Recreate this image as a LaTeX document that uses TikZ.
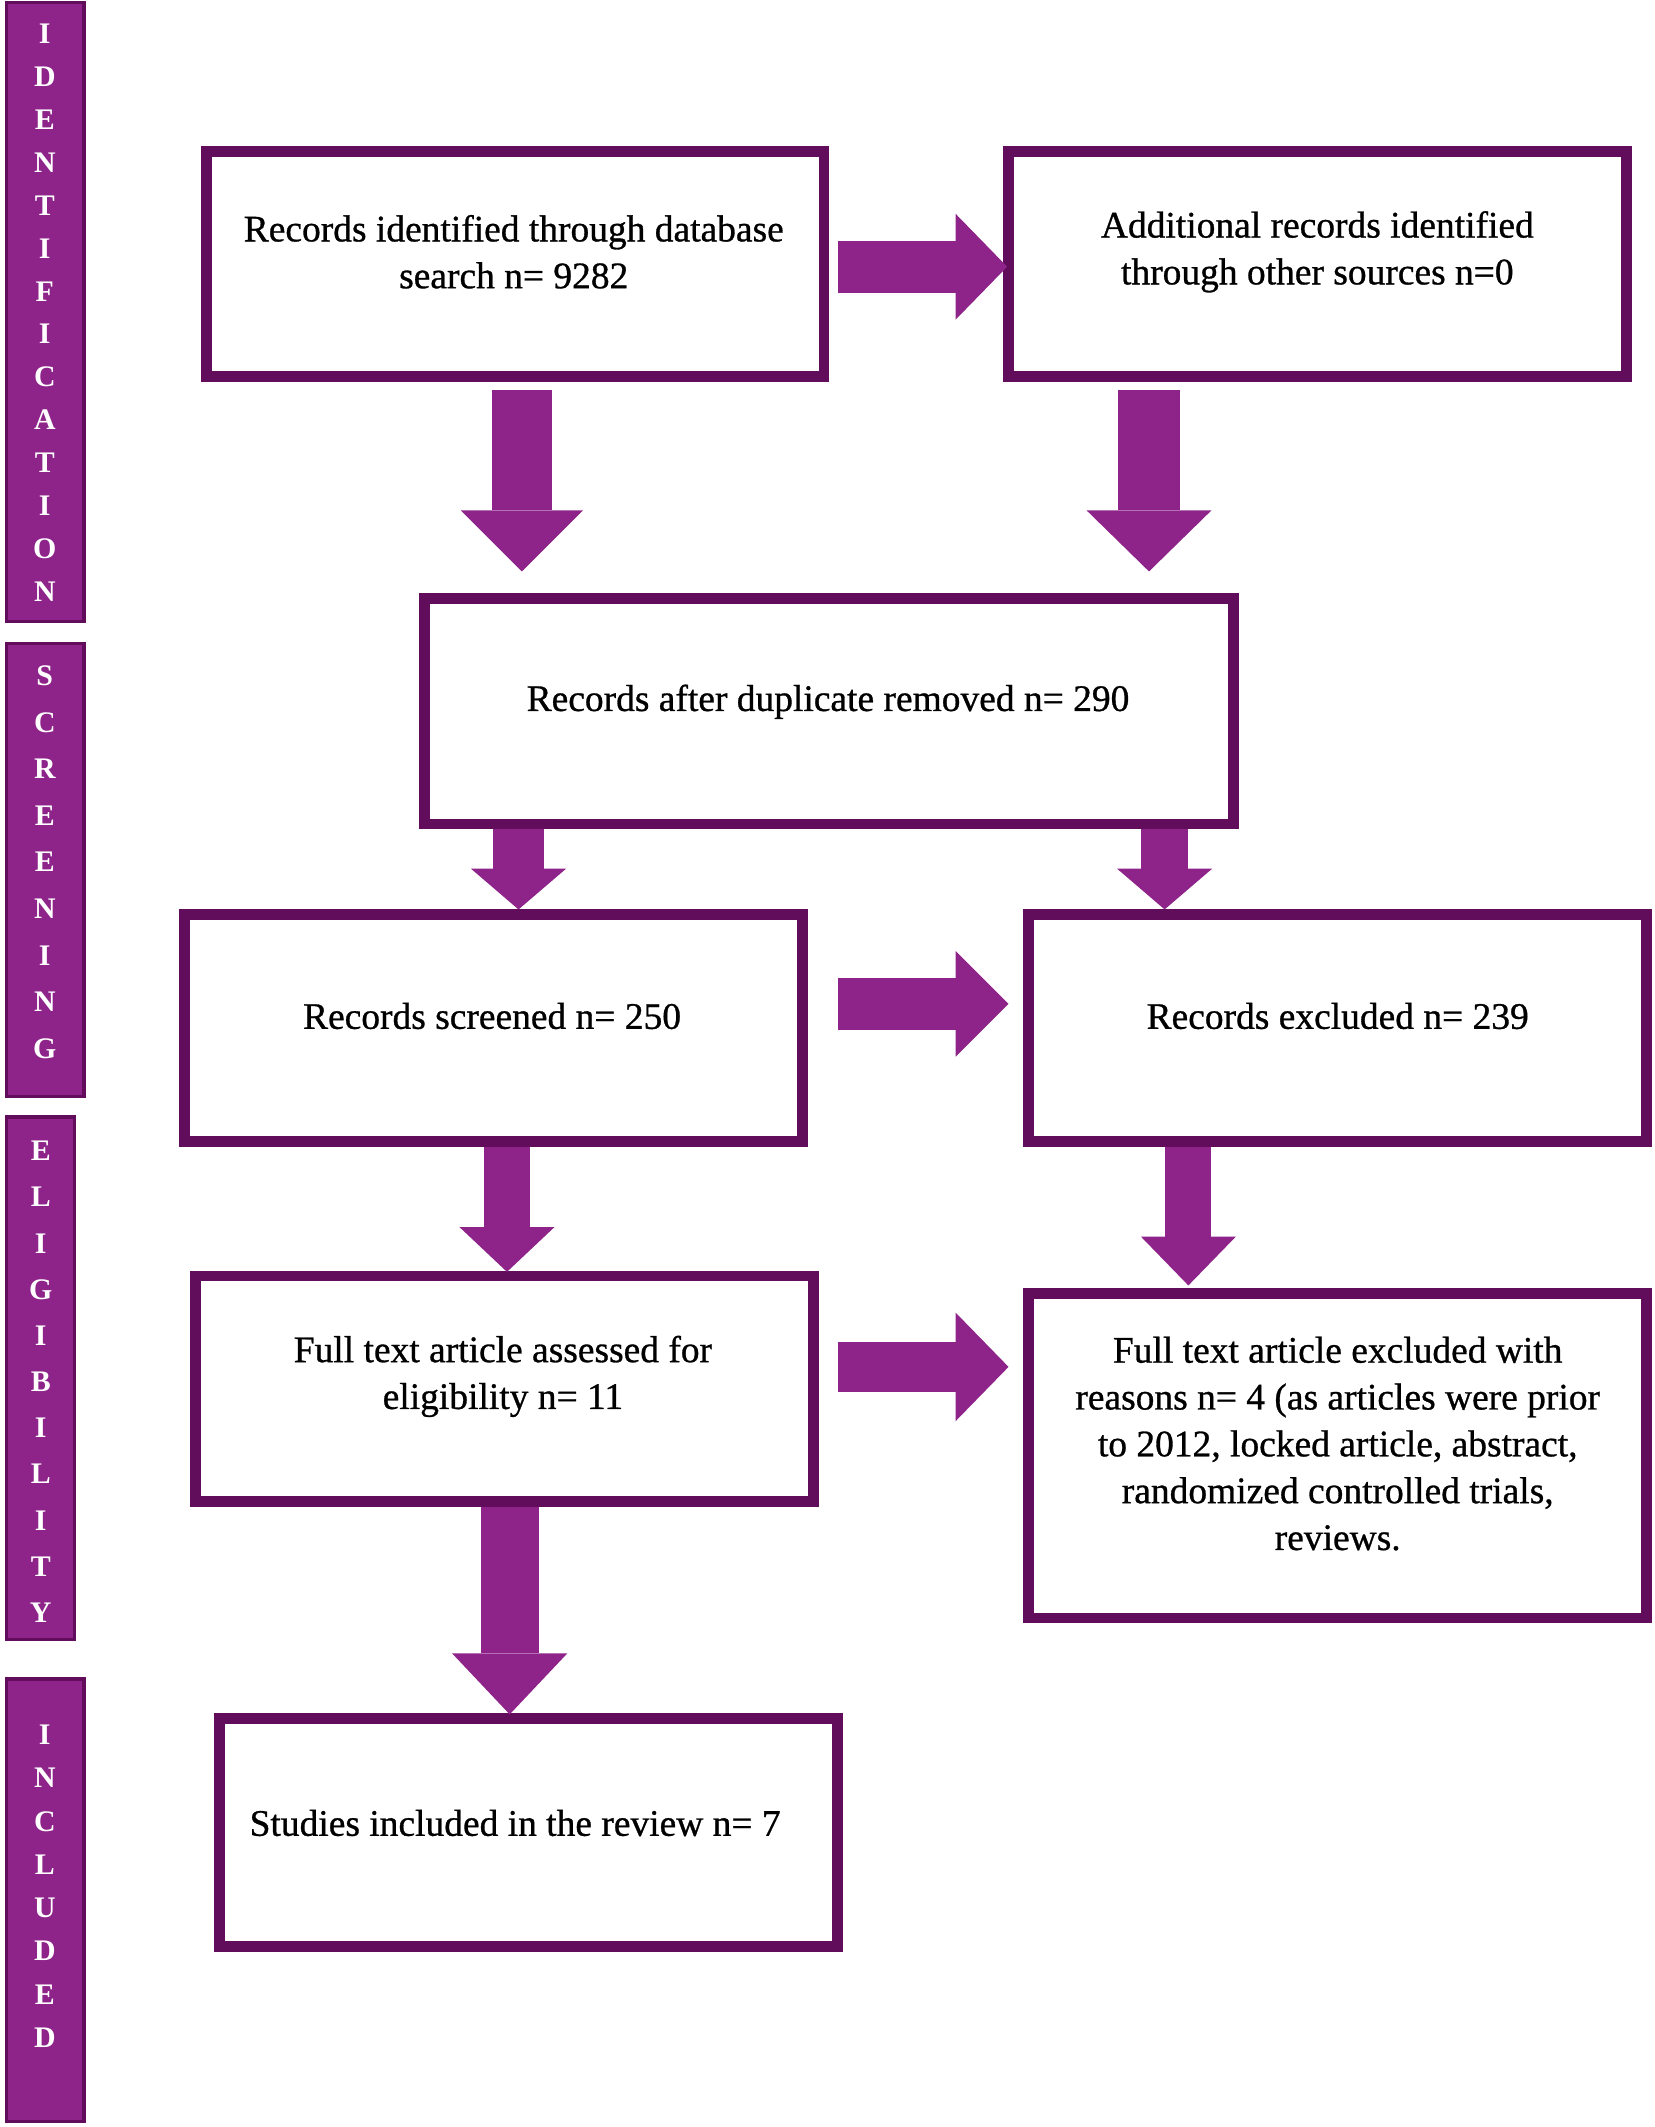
\documentclass[tikz,border=0pt]{standalone}
\usepackage{fontspec}
\setmainfont{Liberation Serif}
\newfontfamily\boxfont[FakeBold=0.8]{Liberation Serif}
\usepackage{tikz}
\usetikzlibrary{arrows.meta}
\usetikzlibrary{calc}
\definecolor{barfill}{RGB}{142,36,138}
\definecolor{boxline}{RGB}{98,12,92}
\begin{document}
\begin{tikzpicture}[x=1pt,y=-1pt,
	main box/.style={draw=boxline,line width=8pt,fill=white,minimum width=455pt,minimum height=166pt},
	box text/.style={align=center,font=\boxfont\fontsize{27.6}{34.5}\selectfont,text=black},
	fat/.style n args={3}{draw=barfill,line width=#1,-{Triangle[width=#2,length=#3,line width=0pt]}},
	side bar/.style={fill=barfill,draw=boxline,line width=2.5pt},
	side letter/.style={text=white,font=\fontsize{22}{22}\selectfont\bfseries,inner sep=0pt}]

	\useasboundingbox (0,0) rectangle (1219,1567);

	% stage bars
	\draw[side bar] (5,2) rectangle (62,458);
	\draw[side bar] (5,474) rectangle (62,808);
	\draw[side bar] (5,823) rectangle (55,1208);
	\draw[side bar] (5,1237) rectangle (62,1563);
	\foreach \ch [count=\i] in {I,D,E,N,T,I,F,I,C,A,T,I,O,N}
		\node[side letter] (id-\i) at (33,{25+31.6*(\i-1)}) {\ch};
	\foreach \ch [count=\i] in {S,C,R,E,E,N,I,N,G}
		\node[side letter] (scr-\i) at (33,{498+34.3*(\i-1)}) {\ch};
	\foreach \ch [count=\i] in {E,L,I,G,I,B,I,L,I,T,Y}
		\node[side letter] (el-\i) at (30,{848+34*(\i-1)}) {\ch};
	\foreach \ch [count=\i] in {I,N,C,L,U,D,E,D}
		\node[side letter] (inc-\i) at (33,{1278+31.9*(\i-1)}) {\ch};

	% boxes
	\node[main box] (rec) at (379.5,194.5) {};
	\node[main box] (add) at (970.5,194.5) {};
	\node[main box,minimum width=596pt] (dup) at (611,524) {};
	\node[main box,minimum height=167pt] (scr) at (363.5,757.5) {};
	\node[main box,minimum height=167pt] (exc) at (985.5,757.5) {};
	\node[main box] (full) at (371.5,1023) {};
	\node[main box,minimum height=239pt] (fexc) at (985.5,1072.5) {};
	\node[main box,minimum height=168pt] (inc) at (389.5,1350) {};

	\node[box text] (rec-t) at ($(rec)+(-1,-9)$) {Records identified through database\\search n= 9282};
	\node[box text] (add-t) at ($(add)+(0,-9)$) {Additional records identified\\through other sources n=0};
	\node[box text] (dup-t) at ($(dup)+(-1,-7)$) {Records after duplicate removed n= 290};
	\node[box text] (scr-t) at ($(scr)+(-1,-9)$) {Records screened n= 250};
	\node[box text] (exc-t) at ($(exc)+(0,-9)$) {Records excluded n= 239};
	\node[box text] (full-t) at ($(full)+(-1,-9)$) {Full text article assessed for\\eligibility n= 11};
	\node[box text] (fexc-t) at ($(fexc)+(0,-9)$) {Full text article excluded with\\reasons n= 4 (as articles were prior\\to 2012, locked article, abstract,\\randomized controlled trials,\\reviews.};
	\node[box text] (inc-t) at ($(inc)+(-10,-7)$) {Studies included in the review n= 7};

	% block arrows
	\draw[fat={38pt}{78pt}{38pt}] ($(rec.east)+(6,2)$) -- ($(add.west |- rec.east)+(3,2)$);
	\draw[fat={44pt}{90pt}{45pt}] ($(rec.south)+(5,6)$) -- ($(rec.south |- dup.north)+(5,-16)$);
	\draw[fat={45pt}{92pt}{45pt}] ($(add.south)+(-124,6)$) -- ($(add.south |- dup.north)+(-124,-16)$);
	\draw[fat={37pt}{70pt}{30pt}] ($(dup.south)+(-229,0)$) -- ($(dup.south |- scr.north)+(-229,0)$);
	\draw[fat={35pt}{70pt}{30pt}] ($(dup.south)+(247,0)$) -- ($(dup.south |- exc.north)+(247,0)$);
	\draw[fat={38pt}{78pt}{39pt}] ($(scr.east)+(22,-18)$) -- ($(exc.west |- scr.east)+(-11,-18)$);
	\draw[fat={34pt}{70pt}{33pt}] ($(scr.south)+(10,0)$) -- ($(scr.south |- full.north)+(10,1)$);
	\draw[fat={34pt}{70pt}{36pt}] ($(exc.south)+(-110,0)$) -- ($(exc.south |- fexc.north)+(-110,-2)$);
	\draw[fat={37pt}{80pt}{39pt}] ($(full.east)+(14,-16)$) -- ($(fexc.west |- full.east)+(-11,-16)$);
	\draw[fat={43pt}{85pt}{45pt}] ($(full.south)+(4,0)$) -- ($(full.south |- inc.north)+(4,1)$);
\end{tikzpicture}
\end{document}
